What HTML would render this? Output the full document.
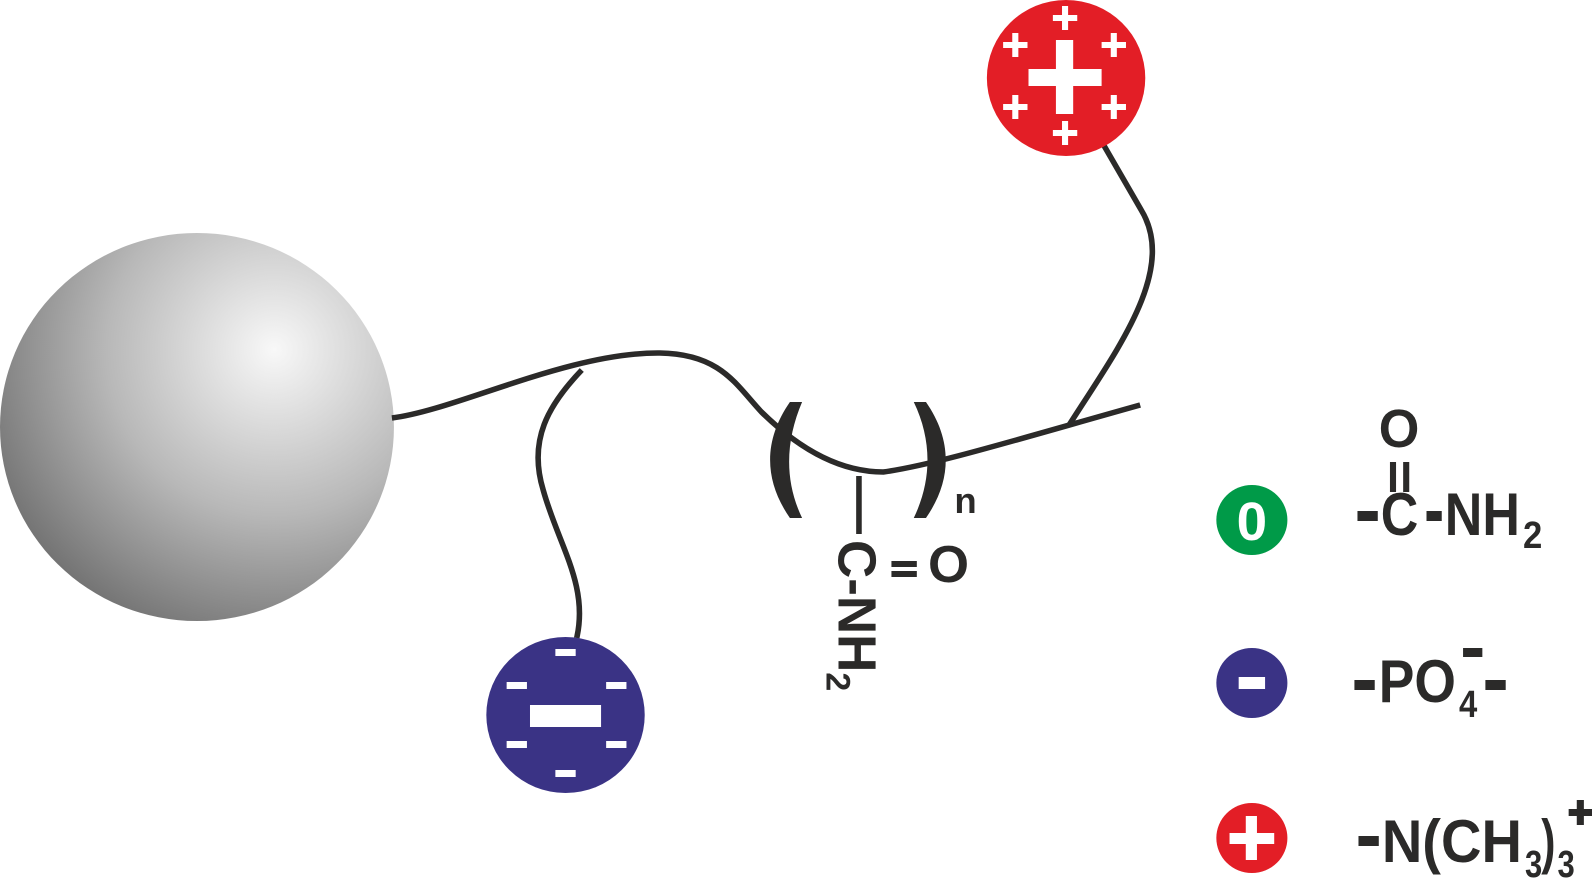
<!DOCTYPE html>
<html><head><meta charset="utf-8"><style>html,body{margin:0;padding:0;background:#fff}svg{display:block}</style></head>
<body>
<svg width="1592" height="878" viewBox="0 0 1568 878" preserveAspectRatio="none" xmlns="http://www.w3.org/2000/svg">
<defs>
<radialGradient id="g" cx="270" cy="350" r="330" gradientUnits="userSpaceOnUse">
<stop offset="0" stop-color="#f8f8f8"/><stop offset="0.5" stop-color="#b8b8b8"/><stop offset="1" stop-color="#666"/>
</radialGradient>
</defs>
<circle cx="194" cy="427" r="194" fill="url(#g)"/>
<g fill="none" stroke="#2b2a29" stroke-width="5.5">
<path d="M386,418 C450,410 560,352 650,353 C710,354 725,385 750,412 C785,447 825,472 870,472 C920,465 1000,440 1123,405"/>
<path d="M573,370 C540,405 520,440 535,490 C550,545 580,585 568,638"/>
<path d="M1087,145 L1124,210 C1160,270 1100,350 1053,425"/>
<path d="M846,476 L846,534"/>
</g>
<g fill="#2b2a29">
<path d="M778,402 L790,402 C774,440 772,480 790,518 L778,518 C752,480 752,440 778,402 Z"/>
<path d="M900,402 L912,402 C938,440 938,480 912,518 L900,518 C918,480 918,440 900,402 Z"/>
</g>
<g font-family="Liberation Sans, Arial, sans-serif" font-weight="bold" fill="#2b2a29">
<text x="940" y="513" font-size="36">n</text>
<text transform="translate(826,540) rotate(90)" font-size="53">C-NH<tspan font-size="34" dy="12">2</tspan></text>
<rect x="878" y="561" width="25" height="6"/><rect x="878" y="571" width="25" height="6"/>
<text x="914" y="582" font-size="52">O</text>
</g>
<circle cx="557" cy="715" r="78" fill="#3a3385"/>
<g fill="#fff">
<rect x="522" y="705" width="70" height="22"/>
<rect x="547" y="649" width="20" height="7"/><rect x="499" y="682" width="20" height="7"/><rect x="597" y="682" width="20" height="7"/>
<rect x="499" y="741" width="20" height="7"/><rect x="597" y="741" width="20" height="7"/><rect x="547" y="770" width="20" height="7"/>
</g>
<circle cx="1050" cy="78" r="78" fill="#e31e26"/>
<g fill="#fff">
<rect x="1013" y="69" width="72" height="17"/><rect x="1040" y="40" width="17" height="74"/>
<g id="p"><rect x="-12" y="-3" width="24" height="6"/><rect x="-3" y="-12" width="6" height="24"/></g>
<use href="#p" x="1049" y="18"/><use href="#p" x="1097" y="45"/><use href="#p" x="1097" y="107"/>
<use href="#p" x="1049" y="133"/><use href="#p" x="1000" y="107"/><use href="#p" x="1000" y="45"/>
</g>
<circle cx="1233" cy="520" r="35" fill="#009a48"/>
<text x="1233" y="540" font-size="54" text-anchor="middle" font-family="Liberation Sans, sans-serif" font-weight="bold" fill="#fff">0</text>
<circle cx="1233" cy="683" r="35" fill="#3a3385"/>
<rect x="1220" y="677" width="26" height="12" fill="#fff"/>
<circle cx="1233" cy="838" r="35" fill="#e31e26"/>
<rect x="1211" y="833" width="44" height="11" fill="#fff"/><rect x="1227" y="816" width="11" height="44" fill="#fff"/>
<g font-family="Liberation Sans, Arial, sans-serif" font-weight="bold" fill="#2b2a29">
<text x="1358" y="447" font-size="54" textLength="40" lengthAdjust="spacingAndGlyphs">O</text>
<rect x="1369" y="462" width="6" height="30"/><rect x="1382" y="462" width="6" height="30"/>
<rect x="1337" y="511" width="20" height="10"/>
<text x="1360" y="535" font-size="60" textLength="37" lengthAdjust="spacingAndGlyphs">C</text>
<rect x="1405" y="511" width="15" height="10"/>
<text x="1423" y="535" font-size="60" textLength="74" lengthAdjust="spacingAndGlyphs">NH</text>
<text x="1500" y="548" font-size="38" textLength="19" lengthAdjust="spacingAndGlyphs">2</text>
<rect x="1334" y="680" width="20" height="10"/>
<text x="1358" y="702" font-size="60" textLength="76" lengthAdjust="spacingAndGlyphs">PO</text>
<text x="1437" y="717" font-size="38" textLength="18" lengthAdjust="spacingAndGlyphs">4</text>
<rect x="1441" y="648" width="19" height="9"/>
<rect x="1463" y="680" width="20" height="10"/>
<rect x="1338" y="836" width="20" height="10"/>
<text x="1361" y="862" font-size="60" textLength="138" lengthAdjust="spacingAndGlyphs">N(CH</text>
<text x="1502" y="877" font-size="38" textLength="17" lengthAdjust="spacingAndGlyphs">3</text>
<text x="1518" y="862" font-size="60" textLength="14" lengthAdjust="spacingAndGlyphs">)</text>
<text x="1534" y="877" font-size="38" textLength="17" lengthAdjust="spacingAndGlyphs">3</text>
<rect x="1545" y="809" width="23" height="7"/><rect x="1553" y="800" width="7" height="25"/>
</g>
</svg>
</body></html>
